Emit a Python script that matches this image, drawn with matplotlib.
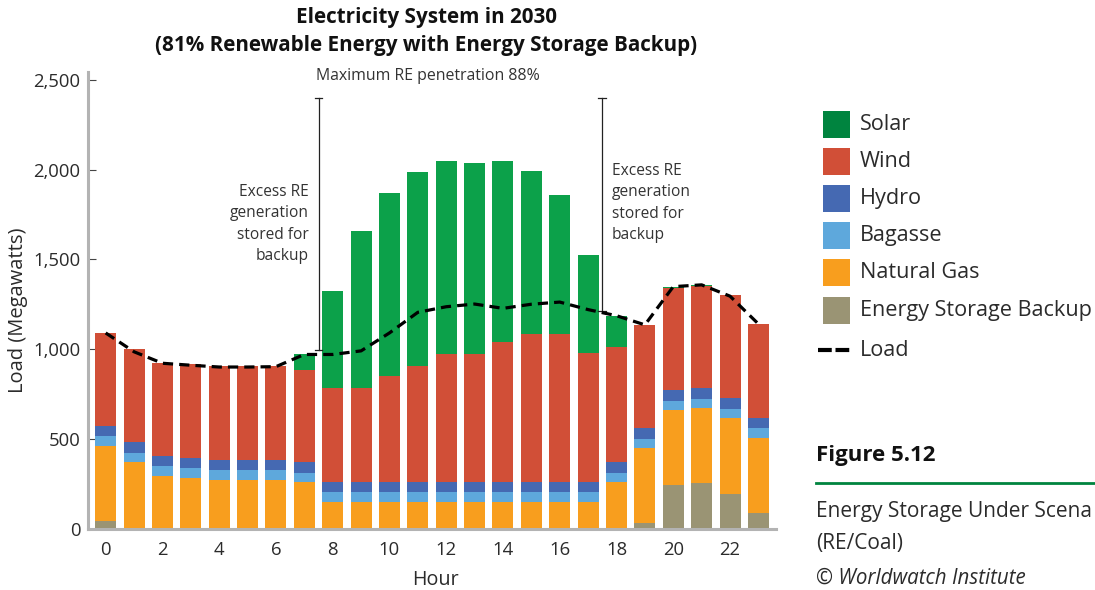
import matplotlib
matplotlib.use("Agg")
import matplotlib.pyplot as plt
from matplotlib.patches import Rectangle
from matplotlib.lines import Line2D
from matplotlib.ticker import FuncFormatter
import numpy as np

plt.rcParams['font.family'] = ['Open Sans', 'DejaVu Sans']

# ---------------- data ----------------
hours = list(range(24))
storage = [42, 0, 0, 0, 0, 0, 0, 0, 0, 0, 0, 0, 0, 0, 0, 0, 0, 0, 0, 28, 240, 253, 191, 85]
natural_gas = [419, 370, 295, 284, 273, 273, 273, 258, 150, 150, 150, 150, 150, 150, 150, 150, 150, 150,
               258, 420, 420, 418, 424, 422]
bagasse = [52] * 24
hydro = [58] * 24
wind = [519, 520, 520, 522, 520, 520, 522, 514, 522, 522, 590, 646, 715, 715, 782, 825, 825, 718,
        641, 575, 572, 572, 576, 523]
solar = [0, 0, 0, 0, 0, 0, 0, 90, 539, 877, 1020, 1081, 1076, 1062, 1009, 910, 771, 549,
         173, 4, 3, 3, 0, 0]
load = [1090, 985, 921, 910, 900, 900, 902, 970, 970, 990, 1090, 1205, 1236, 1251, 1227, 1250,
        1262, 1220, 1186, 1135, 1348, 1358, 1295, 1140]

series_names = ["Solar", "Wind", "Hydro", "Bagasse", "Natural Gas", "Energy Storage Backup"]
bar_colors = {"Solar": "#0ca14a", "Wind": "#d14f37", "Hydro": "#4569b2", "Bagasse": "#5ea8dc",
              "Natural Gas": "#f89e1e", "Energy Storage Backup": "#9a9474"}
legend_colors = {"Solar": "#00843f", "Wind": "#d14f37", "Hydro": "#4569b2", "Bagasse": "#5ea8dc",
                 "Natural Gas": "#f89e1e", "Energy Storage Backup": "#9a9474"}

yticks = [0, 500, 1000, 1500, 2000, 2500]
xticks = list(range(0, 24, 2))

# annotation brackets (hour, bottom, top)
bracket_left = (7.5, 995, 2400)
bracket_right = (17.5, 1210, 2400)

W, H = 1095, 590
fig = plt.figure(figsize=(W / 100, H / 100), dpi=100)
ax = fig.add_axes([87.5 / W, 1 - 528.5 / H, (776 - 87.5) / W, (528.5 - 71.7) / H])

stack_order = [("Energy Storage Backup", storage), ("Natural Gas", natural_gas), ("Bagasse", bagasse),
               ("Hydro", hydro), ("Wind", wind), ("Solar", solar)]
bottom = np.zeros(24)
for name, vals in stack_order:
    v = np.array(vals, dtype=float)
    ax.bar(hours, v, width=0.74, bottom=bottom, color=bar_colors[name], linewidth=0, zorder=2)
    bottom += v

ax.plot(hours, load, color='black', lw=2.3, dashes=(3.2, 1.9), zorder=4, solid_capstyle='butt')

# brackets
for (hx, lo, hi) in (bracket_left, bracket_right):
    ax.plot([hx, hx], [lo, hi], color='#222222', lw=0.9, zorder=3)
    for yy in (lo, hi):
        ax.plot([hx - 0.14, hx + 0.14], [yy, yy], color='#222222', lw=0.9, zorder=3)

ax.set_xlim(-0.64, 23.62)
ax.set_ylim(0, 2546)
ax.set_xticks(xticks)
ax.set_yticks(yticks)
ax.yaxis.set_major_formatter(FuncFormatter(lambda v, p: f"{int(v):,}"))
for s in ('top', 'right'):
    ax.spines[s].set_visible(False)
for s in ('left', 'bottom'):
    ax.spines[s].set_color('#b3b3b3')
    ax.spines[s].set_linewidth(2.2)
ax.tick_params(axis='y', direction='in', length=6, width=0.8, color='#444444', pad=5,
               labelsize=13.3, labelcolor='#2b2b2b')
ax.tick_params(axis='x', length=0, pad=9, labelsize=13.3, labelcolor='#2b2b2b')

fig.text(435 / W, 1 - 580 / H, "Hour", ha='center', va='center', fontsize=14.2, color='#2b2b2b')
fig.text(18 / W, 1 - 310 / H, "Load (Megawatts)", ha='center', va='center', rotation=90,
         fontsize=14.5, color='#2b2b2b')

# title
fig.text(426 / W, 1 - 18 / H, "Electricity System in 2030", ha='center', va='center',
         fontsize=14.9, fontweight='bold', color='#111111')
fig.text(426 / W, 1 - 46 / H, "(81% Renewable Energy with Energy Storage Backup)", ha='center',
         va='center', fontsize=14.9, fontweight='bold', color='#111111')

# annotations
fig.text(428 / W, 1 - 76 / H, "Maximum RE penetration 88%", ha='center', va='center',
         fontsize=11.4, color='#333333')
left_lines = ["Excess RE", "generation", "stored for", "backup"]
for i, t in enumerate(left_lines):
    fig.text(309 / W, 1 - (192 + 21.3 * i) / H, t, ha='right', va='center', fontsize=11.2,
             color='#333333')
for i, t in enumerate(left_lines):
    fig.text(612 / W, 1 - (171 + 21.3 * i) / H, t, ha='left', va='center', fontsize=11.2,
             color='#333333')

# legend (manual)
leg_y = [124.3, 161.7, 198.3, 235.3, 272.3, 310.3]
for name, yc in zip(series_names, leg_y):
    fig.add_artist(Rectangle((823 / W, 1 - (yc + 13.5) / H), 27 / W, 27 / H,
                             transform=fig.transFigure, color=legend_colors[name], lw=0))
    fig.text(860 / W, 1 - yc / H, name, ha='left', va='center', fontsize=15.6, color='#2b2b2b')
fig.add_artist(Line2D([818 / W, 853 / W], [1 - 350 / H, 1 - 350 / H], transform=fig.transFigure,
                      color='black', lw=3, dashes=(3.3, 0.9)))
fig.text(860 / W, 1 - 350 / H, "Load", ha='left', va='center', fontsize=15.6, color='#2b2b2b')

# figure caption
fig.text(816 / W, 1 - 455 / H, "Figure 5.12", ha='left', va='center', fontsize=16,
         fontweight='bold', color='#111111')
fig.add_artist(Line2D([816 / W, 1.0], [1 - 482.7 / H, 1 - 482.7 / H], transform=fig.transFigure,
                      color='#00843f', lw=2))
fig.text(816 / W, 1 - 511 / H, "Energy Storage Under Scena", ha='left', va='center',
         fontsize=15, color='#2b2b2b')
fig.text(816 / W, 1 - 543 / H, "(RE/Coal)", ha='left', va='center', fontsize=15, color='#2b2b2b')
fig.text(816 / W, 1 - 578 / H, "© Worldwatch Institute", ha='left', va='center', fontsize=14.8,
         style='italic', color='#2b2b2b')

fig.savefig("out.png", dpi=100)
